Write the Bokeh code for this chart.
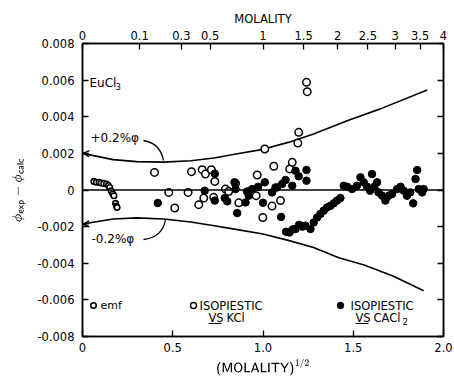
import math
from bokeh.plotting import figure
from bokeh.models import (Range1d, LinearAxis, FixedTicker, CustomJSTickFormatter,
                          Span, Label, Arrow, OpenHead)
from bokeh.embed import file_html
from bokeh.resources import INLINE

# ---- data -------------------------------------------------------------
# emf measurements
emf_x = [0.063, 0.077, 0.092, 0.103, 0.118, 0.133, 0.144, 0.151, 0.159, 0.168,
         0.174, 0.183, 0.188, 0.192]
emf_y = [0.00047, 0.00042, 0.00042, 0.00038, 0.00036, 0.00033, 0.00025, 0.00014,
         -0.00004, -0.00022, -0.00031, -0.00073, -0.00087, -0.00095]

# isopiestic vs KCl
kcl_x = [0.399, 0.478, 0.511, 0.585, 0.604, 0.644, 0.663, 0.672, 0.681, 0.714,
         0.727, 0.733, 0.792, 0.810, 0.848, 0.866, 0.962, 0.968, 0.999, 1.010,
         1.050, 1.060, 1.097, 1.148, 1.162, 1.193, 1.198, 1.241, 1.245]
kcl_y = [0.00096, -0.00013, -0.00098, -0.00013, 0.00100, -0.00080, 0.00111, -0.00044,
         0.00087, 0.00111, -0.00040, 0.00047, 0.00005, -0.00008, 0.00036, -0.00070,
         -0.00031, 0.00082, -0.00150, 0.00224, -0.00088, 0.00130, -0.00058, 0.00115,
         0.00151, 0.00256, 0.00315, 0.00588, 0.00537]

# isopiestic vs CaCl2
cacl_x = [0.417, 0.677, 0.733, 0.733, 0.788, 0.802, 0.842, 0.848, 0.857, 0.903,
          0.912, 0.921, 0.940, 0.973, 1.000, 1.010, 1.050, 1.069, 1.078, 1.100,
          1.106, 1.125, 1.162, 1.180, 1.198, 1.241, 1.241,
          1.128, 1.147, 1.165, 1.180, 1.200, 1.218, 1.235, 1.263, 1.281, 1.300,
          1.318, 1.336, 1.355, 1.374, 1.392, 1.410, 1.429,
          1.447, 1.466, 1.493, 1.520, 1.540, 1.558, 1.576, 1.593, 1.604, 1.617,
          1.632, 1.640, 1.660, 1.678, 1.697, 1.715, 1.743, 1.762, 1.780, 1.798,
          1.816, 1.832, 1.845, 1.854, 1.863, 1.882, 1.890]
cacl_y = [-0.00071, -0.00004, 0.00089, -0.00058, -0.00044, -0.00062, 0.00042, 0.00005,
          -0.00126, -0.00068, -0.00008, -0.00031, 0.00005, 0.00018, -0.00070, 0.00042,
          -0.00013, 0.00014, 0.00014, -0.00147, 0.00033, 0.00055, 0.00023, 0.00105,
          0.00075, 0.00109, 0.00051,
          -0.00228, -0.00232, -0.00215, -0.00213, -0.00190, -0.00200, -0.00195,
          -0.00213, -0.00177, -0.00150, -0.00131, -0.00113, -0.00095, -0.00086,
          -0.00073, -0.00058, -0.00044,
          0.00023, 0.00018, 0.00005, 0.00023, 0.00069, 0.00042, 0.00018, -0.00004,
          0.00087, 0.00018, 0.00042, -0.00013, -0.00031, -0.00058, -0.00031, -0.00022,
          0.00005, 0.00018, -0.00004, -0.00031, -0.00013, -0.00073, 0.00060, 0.00109,
          0.00005, -0.00013, 0.00005]

# +/- 0.2 % of phi envelopes
plus_x = [0.0, 0.17, 0.30, 0.45, 0.60, 0.73, 0.85, 1.00, 1.14, 1.28, 1.47, 1.65, 1.91]
plus_y = [0.00200, 0.00166, 0.00155, 0.00152, 0.00160, 0.00175, 0.00197, 0.00222,
          0.00260, 0.00306, 0.00379, 0.00443, 0.00546]
minus_x = [0.0, 0.17, 0.30, 0.45, 0.60, 0.73, 0.85, 1.00, 1.14, 1.28, 1.42, 1.56,
           1.72, 1.89]
minus_y = [-0.00186, -0.00158, -0.00152, -0.00158, -0.00175, -0.00195, -0.00215,
           -0.00240, -0.00275, -0.00314, -0.00370, -0.00410, -0.00470, -0.00550]

# axis ticks
x_ticks = [0.0, 0.5, 1.0, 1.5, 2.0]
x_tick_labels = ["0", "0.5", "1.0", "1.5", "2.0"]
y_ticks = [-0.008, -0.006, -0.004, -0.002, 0.0, 0.002, 0.004, 0.006, 0.008]
y_tick_labels = ["-0.008", "-0.006", "-0.004", "-0.002", "0", "0.002", "0.004",
                 "0.006", "0.008"]
molality_ticks = [0, 0.1, 0.3, 0.5, 1, 1.5, 2, 2.5, 3, 3.5, 4]
molality_labels = ["0", "0.1", "0.3", "0.5", "1", "1.5", "2", "2.5", "3", "3.5", "4"]

# ---- figure -------------------------------------------------------------
FONT = "DejaVu Sans"
W, H = 454, 379
L, R, T, B = 82, 11, 43, 43

p = figure(width=W, height=H, x_range=Range1d(0, 2), y_range=Range1d(-0.008, 0.008),
           output_backend="svg", toolbar_location=None, x_axis_location=None,
           y_axis_location=None, min_border_left=L, min_border_right=R,
           min_border_top=T, min_border_bottom=B)
p.xgrid.visible = False
p.ygrid.visible = False
p.outline_line_color = "black"
p.outline_line_width = 1.5
p.background_fill_color = "white"
p.border_fill_color = "white"

# pixel -> data helpers for annotation placement inside the frame
fw = W - L - R
fh = H - T - B
def dx(px):
    return (px - L) / fw * 2.0
def dy(py):
    return 0.008 - (py - T) / fh * 0.016

def fmt(labels):
    return CustomJSTickFormatter(args=dict(labels=labels),
                                 code="return labels[index] ?? '';")

def style(ax, show_labels=True):
    ax.axis_line_width = 1.5
    ax.major_tick_in = 6
    ax.major_tick_out = 0
    ax.minor_tick_in = 0
    ax.minor_tick_out = 0
    ax.major_tick_line_width = 1.3
    ax.major_label_text_font = FONT
    ax.major_label_text_font_size = "11.5px" if show_labels else "0px"
    ax.major_label_text_color = "black"
    ax.major_label_standoff = 6 if show_labels else 0
    ax.axis_label_text_font = FONT
    ax.axis_label_text_font_style = "normal"
    ax.axis_label_text_font_size = "12px"
    ax.axis_label_text_color = "black"

bottom = LinearAxis(ticker=FixedTicker(ticks=x_ticks), formatter=fmt(x_tick_labels),
                    axis_label=r"$$\mathsf{(MOLALITY)}^{1/2}$$")
style(bottom)
bottom.axis_label_text_font_size = "10.5px"
bottom.axis_label_standoff = 4
p.add_layout(bottom, "below")

left = LinearAxis(ticker=FixedTicker(ticks=y_ticks), formatter=fmt(y_tick_labels),
                  axis_label=r"$$\phi_{\mathsf{exp}} - \phi_{\mathsf{calc}}$$")
style(left)
left.axis_label_text_font_size = "11px"
left.major_label_standoff = 8
left.axis_label_standoff = 9
p.add_layout(left, "left")

right = LinearAxis(ticker=FixedTicker(ticks=y_ticks), formatter=fmt([""] * 9))
style(right, show_labels=False)
p.add_layout(right, "right")

top = LinearAxis(ticker=FixedTicker(ticks=[math.sqrt(m) for m in molality_ticks]),
                 formatter=fmt(molality_labels), axis_label="MOLALITY")
style(top)
top.axis_label_text_font_size = "11.5px"
top.major_label_standoff = 4
top.axis_label_standoff = 2
p.add_layout(top, "above")

# zero line
p.add_layout(Span(location=0, dimension="width", line_color="black", line_width=1.5))

# envelopes
p.line(plus_x, plus_y, line_color="black", line_width=1.6)
p.line(minus_x, minus_y, line_color="black", line_width=1.6)
for yv in (plus_y[0], minus_y[0]):
    p.add_layout(Arrow(end=OpenHead(size=6, line_width=1.3, line_color="black"),
                       x_start=0.035, y_start=yv - 0.00001 * (1 if yv > 0 else -1),
                       x_end=0.004, y_end=yv, line_color="black", line_width=1.3))

# leaders from the envelope labels
p.quadratic(x0=[dx(143), dx(143)], y0=[dy(140), dy(239)],
            x1=[dx(163), dx(165)], y1=[dy(160), dy(219)],
            cx=[dx(160), dx(162)], cy=[dy(143), dy(237)],
            line_color="black", line_width=1.3)

# points
p.scatter(kcl_x, kcl_y, size=7.5, marker="circle", fill_color="white",
          line_color="black", line_width=1.5)
p.scatter(cacl_x, cacl_y, size=7.5, marker="circle", fill_color="black",
          line_color="black", line_width=1)
p.scatter(emf_x, emf_y, size=5.5, marker="circle", fill_color="white",
          line_color="black", line_width=1.6)

def txt(x, y, s, size="12px", align="left", baseline="middle"):
    p.add_layout(Label(x=x, y=y, text=s, text_font=FONT, text_font_size=size,
                       text_align=align, text_baseline=baseline,
                       text_color="black"))

# text inside the frame
txt(dx(89), dy(82), "EuCl", "12px")
txt(dx(115), dy(86), "3", "8.5px")
txt(dx(90), dy(137), "+0.2%\u03c6", "12px")
txt(dx(91), dy(238), "-0.2%\u03c6", "12px")

# legend
p.scatter([dx(93)], [dy(305)], size=5.5, marker="circle", fill_color="white",
          line_color="black", line_width=1.6)
txt(dx(100), dy(305), "emf", "11px")
p.scatter([dx(193)], [dy(305)], size=6, marker="circle", fill_color="white",
          line_color="black", line_width=1.4)
txt(dx(199), dy(305), "ISOPIESTIC", "11.5px")
txt(dx(208), dy(317), "VS", "11.5px")
txt(dx(226), dy(317), "KCl", "11.5px")
p.scatter([dx(340)], [dy(305)], size=6.5, marker="circle", fill_color="black",
          line_color="black")
txt(dx(350), dy(305), "ISOPIESTIC", "11.5px")
txt(dx(355), dy(317), "VS", "11.5px")
txt(dx(373), dy(317), "CACl", "11.5px")
txt(dx(402), dy(321), "2", "8.5px")
p.segment(x0=[dx(208), dx(355)], y0=[dy(323), dy(323)],
          x1=[dx(221), dx(368)], y1=[dy(323), dy(323)], line_color="black",
          line_width=1.2)

open("out.html", "w").write(file_html(p, INLINE))
